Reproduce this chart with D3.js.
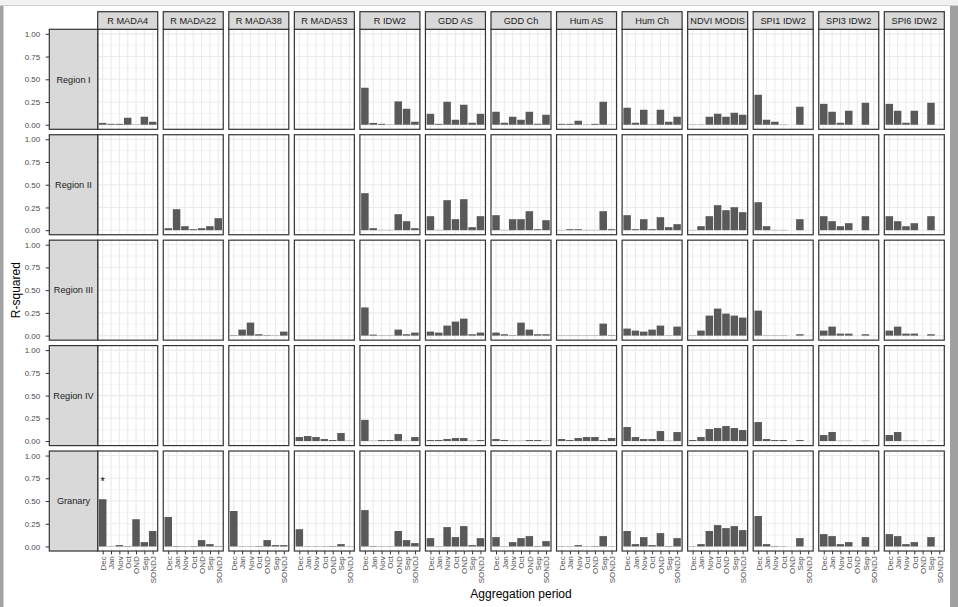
<!DOCTYPE html>
<html><head><meta charset="utf-8">
<script src="https://cdn.jsdelivr.net/npm/d3@7"></script>
<style>
html,body{margin:0;padding:0;background:#fff;}
svg{display:block;font-family:"Liberation Sans",Arial,sans-serif;}
</style></head>
<body>
<svg id="chart" width="958" height="607"></svg>
<script>
const periods = ["Dec","Jan","Nov","Oct","OND","Sep","SONDJ"];
const variables = ["R MADA4","R MADA22","R MADA38","R MADA53","R IDW2","GDD AS","GDD Ch","Hum AS","Hum Ch","NDVI MODIS","SPI1 IDW2","SPI3 IDW2","SPI6 IDW2"];
const regions = ["Region I","Region II","Region III","Region IV","Granary"];
const yTicks = [0, 0.25, 0.5, 0.75, 1];
const N = null;
const none = [N,N,N,N,N,N,N];

// R-squared per variable (rows follow `variables`), columns follow `periods`
const regionI = [
  [0.02,0.01,0.01,0.077,0.003,0.088,0.033],
  none, none, none,
  [0.407,0.02,0.01,0.003,0.257,0.176,0.033],
  [0.12,0.01,0.253,0.055,0.22,0.022,0.12],
  [0.143,0.022,0.088,0.055,0.143,0.011,0.11],
  [0.01,0.01,0.044,0.003,0.01,0.253,0.003],
  [0.187,0.022,0.165,0.003,0.165,0.033,0.088],
  [0.003,0.003,0.088,0.121,0.088,0.132,0.11],
  [0.33,0.055,0.033,0.003,N,0.198,N],
  [0.23,0.143,0.022,0.154,N,0.242,N],
  [0.23,0.154,0.022,0.154,N,0.242,N]
];
const regionII = [
  none,
  [0.022,0.231,0.044,0.011,0.022,0.044,0.132],
  none, none,
  [0.407,0.022,0.003,0.003,0.176,0.099,0.022],
  [0.154,0.003,0.33,0.121,0.341,0.033,0.154],
  [0.165,0.003,0.121,0.121,0.209,0.011,0.11],
  [0.003,0.011,0.011,0.003,0.003,0.209,0.011],
  [0.165,0.011,0.121,0.011,0.143,0.033,0.066],
  [0.003,0.044,0.154,0.275,0.22,0.253,0.198],
  [0.308,0.044,0.003,0.003,N,0.121,N],
  [0.154,0.099,0.044,0.077,N,0.154,N],
  [0.154,0.099,0.044,0.077,N,0.154,N]
];
const regionIII = [
  none, none,
  [0.005,0.066,0.143,0.015,0.005,0.003,0.044],
  none,
  [0.31,0.011,0.003,0.003,0.066,0.015,0.033],
  [0.044,0.033,0.11,0.154,0.187,0.015,0.033],
  [0.033,0.015,0.005,0.143,0.066,0.015,0.015],
  [0.003,0.003,0.003,0.003,0.003,0.132,0.005],
  [0.077,0.055,0.044,0.066,0.11,0.003,0.099],
  [0.003,0.055,0.22,0.297,0.242,0.22,0.198],
  [0.275,0.003,0.003,0.003,N,0.015,N],
  [0.055,0.099,0.022,0.022,N,0.015,N],
  [0.055,0.099,0.022,0.022,N,0.015,N]
];
const regionIV = [
  none, none, none,
  [0.044,0.055,0.044,0.022,0.011,0.088,0.003],
  [0.233,0.003,0.011,0.011,0.077,0.003,0.044],
  [0.011,0.011,0.022,0.033,0.033,0.003,0.011],
  [0.022,0.011,0.003,0.003,0.011,0.011,0.003],
  [0.022,0.011,0.033,0.044,0.044,0.011,0.033],
  [0.154,0.044,0.022,0.022,0.11,0.003,0.099],
  [0.011,0.044,0.132,0.143,0.165,0.143,0.121],
  [0.209,0.022,0.011,0.011,N,0.011,N],
  [0.066,0.099,0.003,0.003,N,0.003,N],
  [0.066,0.099,0.003,0.003,N,0.003,N]
];
const granary = [
  [0.52,0.003,0.015,0.005,0.30,0.048,0.17],
  [0.325,0.005,0.003,0.005,0.07,0.026,0.005],
  [0.39,0.003,0.003,0.005,0.07,0.015,0.015],
  [0.19,0.003,0.003,0.003,0.005,0.026,0.003],
  [0.40,0.005,0.003,0.003,0.17,0.07,0.037],
  [0.092,0.003,0.213,0.103,0.224,0.015,0.092],
  [0.103,0.003,0.048,0.092,0.114,0.005,0.059],
  [0.003,0.003,0.015,0.003,0.005,0.114,0.003],
  [0.17,0.026,0.103,0.015,0.147,0.005,0.092],
  [0.003,0.026,0.17,0.235,0.202,0.224,0.18],
  [0.335,0.026,0.005,0.003,N,0.092,N],
  [0.136,0.114,0.026,0.048,N,0.103,N],
  [0.136,0.114,0.026,0.048,N,0.103,N]
];
// significance marker
const annotations = [{region:"Granary", variable:"R MADA4", period:"Dec", y:0.75, label:"*"}];

const regionValues = [regionI, regionII, regionIII, regionIV, granary];
const rows = [];
regions.forEach((r,ri)=>variables.forEach((v,vi)=>periods.forEach((p,pi)=>{
  const val = regionValues[ri][vi][pi];
  if (val !== null) rows.push({region:r, variable:v, period:p, value:val});
})));

const svg = d3.select("#chart");
const W = 958, H = 607;

// window frame decoration
svg.append("rect").attr("x",0).attr("y",0).attr("width",W).attr("height",5).attr("fill","#f2f2f2");
svg.append("rect").attr("x",0).attr("y",5).attr("width",W).attr("height",1).attr("fill","#cfcfcf");
svg.append("rect").attr("x",0).attr("y",6).attr("width",3.5).attr("height",H-6).attr("fill","#a3a3a3");
svg.append("rect").attr("x",950).attr("y",6).attr("width",8).attr("height",H-6).attr("fill","#a0a0a0");

const colStep = 65.55, panelW = 60;
const col = d3.scaleBand().domain(variables).range([97.7, 97.7 + 12*colStep + panelW]).paddingInner((colStep-panelW)/colStep);
const rowStep = 105.43, panelH = 100;
const row = d3.scaleBand().domain(regions).range([29.3, 29.3 + 4*rowStep + panelH]).paddingInner((rowStep-panelH)/rowStep);
const x = d3.scalePoint().domain(periods).range([0, col.bandwidth()]).padding(0.6);
const step = x.step();
const y = d3.scaleLinear().domain([-0.05, 1.05]).range([row.bandwidth(), 0]);

const minorTicks = [0.125, 0.375, 0.625, 0.875];
const border = "#333333";
const axisFont = 8;
const stripFont = 9.2;

regions.forEach(r=>{
  variables.forEach(v=>{
    const g = svg.append("g").attr("transform",`translate(${col(v)},${row(r)})`);
    g.append("rect").attr("width",col.bandwidth()).attr("height",row.bandwidth()).attr("fill","#fff");
    g.selectAll(".mn").data(minorTicks).join("line")
      .attr("x1",0).attr("x2",col.bandwidth()).attr("y1",d=>y(d)).attr("y2",d=>y(d))
      .attr("stroke","#ebebeb").attr("stroke-width",0.6);
    g.selectAll(".mj").data(yTicks).join("line")
      .attr("x1",0).attr("x2",col.bandwidth()).attr("y1",d=>y(d)).attr("y2",d=>y(d))
      .attr("stroke","#ebebeb").attr("stroke-width",1.1);
    g.selectAll(".vx").data(periods).join("line")
      .attr("x1",d=>x(d)).attr("x2",d=>x(d)).attr("y1",0).attr("y2",row.bandwidth())
      .attr("stroke","#ebebeb").attr("stroke-width",1.1);
    const d = rows.filter(o=>o.region===r && o.variable===v);
    g.selectAll(".bar").data(d).join("rect")
      .attr("x",o=>x(o.period)-step*0.45).attr("width",step*0.9)
      .attr("y",o=>y(o.value)).attr("height",o=>y(0)-y(o.value))
      .attr("fill","#595959");
    annotations.filter(a=>a.region===r && a.variable===v).forEach(a=>{
      g.append("text").attr("x",x(a.period)).attr("y",y(a.y)).attr("dy","0.62em")
        .attr("text-anchor","middle").attr("font-size",11).attr("fill","#000").text(a.label);
    });
    g.append("rect").attr("width",col.bandwidth()).attr("height",row.bandwidth())
      .attr("fill","none").attr("stroke",border).attr("stroke-width",1.2);
  });
});

// top strips
variables.forEach(v=>{
  const g = svg.append("g").attr("transform",`translate(${col(v)},11.7)`);
  g.append("rect").attr("width",col.bandwidth()).attr("height",17.6)
    .attr("fill","#d9d9d9").attr("stroke",border).attr("stroke-width",1.2);
  g.append("text").attr("x",col.bandwidth()/2).attr("y",8.8).attr("dy","0.36em")
    .attr("text-anchor","middle").attr("font-size",stripFont).attr("fill","#1a1a1a").text(v);
});
// left strips
regions.forEach(r=>{
  const g = svg.append("g").attr("transform",`translate(49.3,${row(r)})`);
  g.append("rect").attr("width",48.4).attr("height",row.bandwidth())
    .attr("fill","#d9d9d9").attr("stroke",border).attr("stroke-width",1.2);
  g.append("text").attr("x",24.2).attr("y",row.bandwidth()/2).attr("dy","0.36em")
    .attr("text-anchor","middle").attr("font-size",stripFont).attr("fill","#1a1a1a").text(r);
});

// y axes
regions.forEach(r=>{
  const ax = d3.axisLeft(y).tickValues(yTicks).tickFormat(d3.format(".2f")).tickSize(3.6).tickPadding(5.5);
  const g = svg.append("g").attr("transform",`translate(49.3,${row(r)})`).call(ax);
  g.select(".domain").remove();
  g.selectAll(".tick line").attr("stroke","#333").attr("stroke-width",1);
  g.selectAll(".tick text").attr("font-size",axisFont).attr("fill","#4d4d4d").attr("font-family","Liberation Sans, Arial, sans-serif");
});

// x axes (bottom row)
const lastRow = regions[regions.length-1];
variables.forEach(v=>{
  const ax = d3.axisBottom(x).tickSize(3.4).tickPadding(2);
  const g = svg.append("g").attr("transform",`translate(${col(v)},${row(lastRow)+row.bandwidth()})`).call(ax);
  g.select(".domain").remove();
  g.selectAll(".tick line").attr("stroke","#333").attr("stroke-width",1);
  g.selectAll(".tick text").attr("font-size",axisFont).attr("fill","#4d4d4d").attr("font-family","Liberation Sans, Arial, sans-serif")
    .attr("transform","rotate(-90)").attr("text-anchor","end").attr("x",-5.2).attr("y",0).attr("dy","0.35em");
});

// axis titles
svg.append("text").attr("x",(col.range()[0]+col.range()[1])/2).attr("y",598)
  .attr("text-anchor","middle").attr("font-size",12).attr("fill","#000").text("Aggregation period");
svg.append("text").attr("transform",`translate(20,${(row.range()[0]+row.range()[1])/2}) rotate(-90)`)
  .attr("text-anchor","middle").attr("font-size",12).attr("fill","#000").text("R-squared");
</script>
</body></html>
